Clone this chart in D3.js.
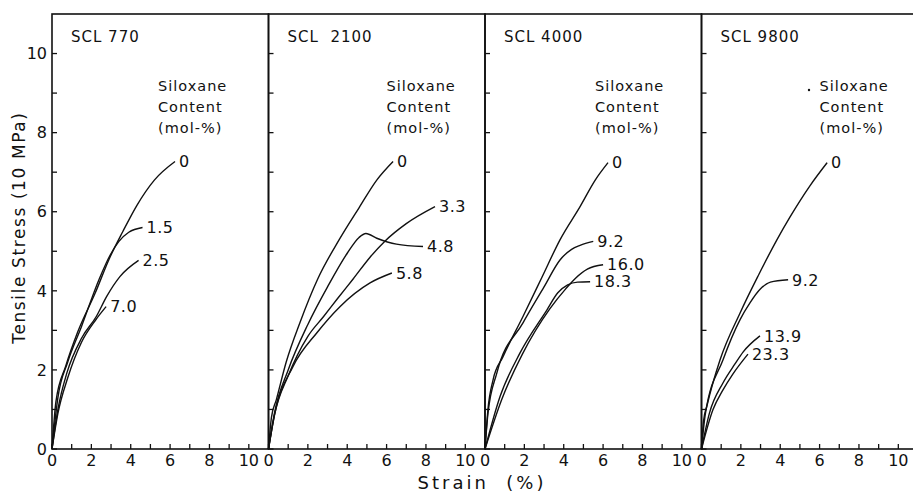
<!DOCTYPE html>
<html lang="en">
<head>
  <meta charset="UTF-8">
  <title>Tensile Stress vs Strain</title>
  <script src="https://d3js.org/d3.v7.min.js"></script>
  <style>
    body { margin: 0; background: white; font-family: "DejaVu Sans", Arial, sans-serif; }
    svg text { fill: #111; }
  </style>
</head>
<body>
  <svg id="chart" width="913" height="499"></svg>

  <script>
    const panelTitles = ["SCL 770", "SCL  2100", "SCL 4000", "SCL 9800"];
    const xTicks = [0, 2, 4, 6, 8, 10];
    const yTicks = [0, 2, 4, 6, 8, 10];
    const minorTicks = d3.range(0, 11);

    // curves per panel: siloxane content label + [strain, stress] points
    const scl770 = [
      { label: "0", pts: [[0,0],[0.2,1.2],[0.7,2.1],[1.3,2.95],[2.2,3.95],[2.9,4.8],[3.6,5.5],[4.3,6.15],[5.2,6.8],[6.25,7.27]] },
      { label: "1.5", pts: [[0,0],[0.3,1.3],[0.8,2.2],[1.5,3.1],[2.4,4.3],[2.95,4.9],[3.4,5.25],[3.9,5.48],[4.6,5.6]] },
      { label: "2.5", pts: [[0,0],[0.3,1.0],[0.76,1.93],[1.5,2.8],[2.25,3.35],[2.78,3.86],[3.45,4.36],[4.4,4.77]] },
      { label: "7.0", pts: [[0,0],[0.3,0.9],[0.8,1.8],[1.5,2.7],[2.2,3.25],[2.75,3.6]] }
    ];
    const scl2100 = [
      { label: "0", pts: [[0,0],[0.15,0.8],[0.4,1.25],[0.9,2.2],[1.6,3.2],[2.5,4.3],[3.6,5.3],[4.6,6.1],[5.5,6.8],[6.33,7.27]] },
      { label: "3.3", pts: [[0,0],[0.3,0.85],[1,1.85],[2,2.85],[2.8,3.35],[3.5,3.8],[4.3,4.3],[5.16,4.85],[5.9,5.25],[7,5.7],[8.46,6.13]] },
      { label: "4.8", pts: [[0,0],[0.3,0.9],[1,2.0],[2,3.15],[3,4.1],[4,4.95],[4.6,5.35],[4.95,5.45],[5.5,5.33],[6.5,5.18],[7.85,5.12]] },
      { label: "5.8", pts: [[0,0],[0.3,0.85],[1.24,2.08],[2.46,2.94],[3.63,3.6],[5.16,4.2],[6.27,4.45]] }
    ];
    const scl4000 = [
      { label: "0", pts: [[0,0],[0.15,1.0],[0.41,1.75],[0.91,2.33],[1.93,3.35],[2.9,4.35],[3.81,5.29],[4.83,6.13],[5.6,6.8],[6.25,7.24]] },
      { label: "9.2", pts: [[0,0],[0.15,0.9],[0.6,1.92],[1.93,3.19],[3.0,4.1],[3.81,4.78],[4.4,5.05],[4.83,5.15],[5.5,5.25]] },
      { label: "16.0", pts: [[0,0],[0.85,1.25],[1.9,2.4],[3.3,3.55],[4.1,4.05],[4.6,4.32],[5.2,4.55],[6.0,4.66]] },
      { label: "18.3", pts: [[0,0],[0.76,1.32],[1.78,2.43],[3.15,3.52],[3.7,3.95],[4.2,4.15],[4.7,4.22],[5.34,4.23]] }
    ];
    const scl9800 = [
      { label: "0", pts: [[0,0],[0.1,0.7],[0.28,1.1],[0.94,2.25],[1.96,3.44],[2.9,4.4],[3.83,5.29],[4.5,5.87],[5.5,6.65],[6.38,7.24]] },
      { label: "9.2", pts: [[0,0],[0.2,0.9],[1.09,2.25],[1.96,3.27],[2.47,3.7],[3.0,4.05],[3.5,4.22],[4.4,4.28]] },
      { label: "13.9", pts: [[0,0],[0.4,0.9],[1.09,1.67],[1.7,2.15],[2.11,2.45],[2.97,2.86]] },
      { label: "23.3", pts: [[0,0],[0.58,0.99],[1.1,1.5],[1.6,1.9],[2.36,2.4]] }
    ];
    const panels = [scl770, scl2100, scl4000, scl9800];

    const svg = d3.select("#chart");
    const marginLeft = 52, plotTop = 14, plotBottom = 449, panelW = 216.5;
    const noteX = [106, 118, 110, 118];

    const y = d3.scaleLinear().domain([0, 11]).range([plotBottom, plotTop]);
    const line = d3.line().curve(d3.curveMonotoneX);

    panels.forEach((series, p) => {
      const x0 = marginLeft + p * panelW;
      const x = d3.scaleLinear().domain([0, 11]).range([x0, x0 + panelW]);
      const g = svg.append("g");

      // frame
      g.append("rect")
        .attr("x", x0).attr("y", plotTop)
        .attr("width", panelW).attr("height", plotBottom - plotTop)
        .attr("fill", "none").attr("stroke", "#111").attr("stroke-width", 1.6);

      // x ticks (inward)
      g.selectAll(".xt").data(minorTicks).enter().append("line")
        .attr("x1", d => x(d)).attr("x2", d => x(d))
        .attr("y1", plotBottom).attr("y2", plotBottom - 5)
        .attr("stroke", "#111").attr("stroke-width", 1.3);
      g.selectAll(".xl").data(xTicks).enter().append("text")
        .attr("x", d => x(d)).attr("y", plotBottom + 17)
        .attr("text-anchor", "middle")
        .style("font-size", "16px")
        .text(d => d);

      // y ticks (inward)
      g.selectAll(".yt").data(minorTicks).enter().append("line")
        .attr("x1", x0).attr("x2", x0 + 5)
        .attr("y1", d => y(d)).attr("y2", d => y(d))
        .attr("stroke", "#111").attr("stroke-width", 1.3);

      // title
      g.append("text")
        .attr("x", x0 + 19).attr("y", 42)
        .attr("xml:space", "preserve")
        .style("white-space", "pre")
        .style("font-size", "15px")
        .style("letter-spacing", "1px")
        .text(panelTitles[p]);

      // legend note
      const note = g.append("text")
        .attr("x", x0 + noteX[p]).attr("y", 91)
        .style("font-size", "14.5px")
        .style("letter-spacing", "1px");
      ["Siloxane", "Content", "(mol-%)"].forEach((t, i) => {
        note.append("tspan").attr("x", x0 + noteX[p]).attr("dy", i === 0 ? 0 : 21).text(t);
      });

      // curves
      g.selectAll(".curve").data(series).enter().append("path")
        .attr("d", d => line(d.pts.map(q => [x(q[0]), y(q[1])])))
        .attr("fill", "none").attr("stroke", "#111").attr("stroke-width", 1.4);

      g.selectAll(".lab").data(series).enter().append("text")
        .attr("x", d => x(d.pts[d.pts.length - 1][0]) + 4)
        .attr("y", d => y(d.pts[d.pts.length - 1][1]))
        .attr("dy", "0.36em")
        .style("font-size", "16px")
        .style("letter-spacing", "0.5px")
        .text(d => d.label);
    });

    // y tick labels
    svg.selectAll(".yl").data(yTicks).enter().append("text")
      .attr("x", marginLeft - 5).attr("y", d => y(d))
      .attr("dy", "0.36em")
      .attr("text-anchor", "end")
      .style("font-size", "16px")
      .text(d => d);

    // scan speck next to the last note
    svg.append("circle").attr("cx", 809).attr("cy", 90).attr("r", 1.2).attr("fill", "#111");

    // axis titles
    svg.append("text")
      .attr("transform", "translate(25," + y(5.6) + ") rotate(-90)")
      .attr("text-anchor", "middle")
      .style("font-size", "17px")
      .style("letter-spacing", "1.6px")
      .text("Tensile Stress (10 MPa)");

    svg.append("text")
      .attr("x", 482).attr("y", 489)
      .attr("text-anchor", "middle")
      .attr("xml:space", "preserve")
      .style("white-space", "pre")
      .style("font-size", "18px")
      .style("letter-spacing", "3px")
      .text("Strain  (%)");
  </script>
</body>
</html>
